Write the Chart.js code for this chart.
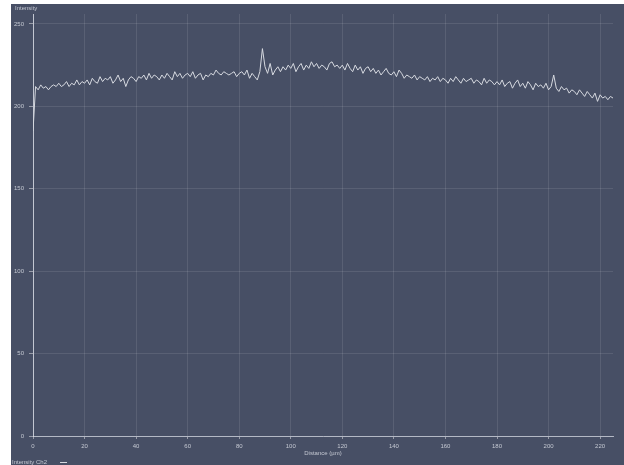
<!DOCTYPE html>
<html>
<head>
<meta charset="utf-8">
<script src="https://cdn.jsdelivr.net/npm/chart.js@4.4.1/dist/chart.umd.min.js"></script>
<style>
  html, body { margin: 0; padding: 0; background: #ffffff; }
  #wrap { position: absolute; left: 11px; top: 4px; width: 613px; height: 461px; }
</style>
</head>
<body>
<div id="wrap"><canvas id="profileChart" width="613" height="461"></canvas></div>
<script>
// Profile data, one reading per micrometre
const stepUm = 1;
const intensityCh2 = [
    185, 212, 210, 213, 211, 212, 210, 212, 213, 212,
    214, 212, 213, 215, 212, 214, 213, 216, 213, 215,
    214, 216, 213, 217, 215, 214, 218, 215, 217, 216,
    218, 214, 216, 219, 215, 217, 212, 216, 218, 217,
    215, 218, 217, 219, 216, 220, 217, 219, 218, 216,
    219, 217, 220, 218, 216, 221, 218, 220, 217, 219,
    220, 218, 221, 217, 219, 220, 216, 219, 218, 220,
    219, 222, 220, 219, 221, 220, 219, 220, 221, 218,
    220, 221, 219, 222, 217, 220, 218, 216, 221, 235,
    224, 220, 226, 219, 222, 224, 221, 224, 222, 225,
    223, 226, 221, 224, 226, 222, 225, 223, 227, 224,
    226, 223, 225, 224, 222, 226, 227, 224, 225, 223,
    225, 222, 226, 223, 221, 225, 222, 224, 220, 223,
    224, 221, 223, 220, 222, 219, 221, 223, 220, 219,
    221, 218, 222, 220, 217, 219, 218, 217, 219, 216,
    218, 217, 216, 218, 215, 217, 216, 218, 215, 217,
    216, 214, 217, 215, 218, 216, 214, 217, 215, 216,
    217, 214, 216, 215, 213, 217, 214, 216, 215, 213,
    215, 213, 216, 212, 214, 215, 211, 214, 216, 212,
    214, 211, 215, 213, 210, 214, 212, 213, 211, 214,
    210, 212, 219, 211, 209, 212, 210, 211, 208, 210,
    209, 207, 210, 208, 206, 209, 207, 205, 208, 203,
    207, 205, 206, 204, 206, 205
];
const xTickValues = [0, 20, 40, 60, 80, 100, 120, 140, 160, 180, 200, 220];
const yTickValues = [0, 50, 100, 150, 200, 250];

const points = intensityCh2.map(function (v, i) {
    return { x: i * stepUm, y: v };
});

const bgColor = 'rgb(71, 79, 101)';
const lineColor = '#d6d9e0';
const textColor = '#c4c8d2';
const font = { family: 'Liberation Sans, Arial, sans-serif', size: 6 };

// Paint the dark backdrop and the extra labels
const backdrop = {
    id: 'backdrop',
    beforeDraw: function (chart) {
        const c = chart.ctx;
        c.save();
        c.fillStyle = bgColor;
        c.fillRect(0, 0, chart.width, chart.height);
        c.restore();
    },
    afterDraw: function (chart) {
        const c = chart.ctx;
        c.save();
        c.font = '6px Liberation Sans, Arial, sans-serif';
        c.fillStyle = textColor;
        c.textBaseline = 'middle';
        c.textAlign = 'left';
        c.fillText('Intensity', 4, 4);
        // legend: label first, then the line sample
        const label = chart.data.datasets[0].label;
        c.fillText(label, 1, 458);
        const w = c.measureText(label).width;
        c.strokeStyle = lineColor;
        c.lineWidth = 1;
        c.beginPath();
        c.moveTo(1 + w + 13, 458.5);
        c.lineTo(1 + w + 20, 458.5);
        c.stroke();
        c.restore();
    }
};

new Chart(document.getElementById('profileChart').getContext('2d'), {
    type: 'line',
    data: {
        datasets: [{
            label: 'Intensity Ch2',
            data: points,
            borderColor: lineColor,
            borderWidth: 1,
            pointRadius: 0,
            tension: 0,
            fill: false
        }]
    },
    options: {
        responsive: false,
        animation: false,
        layout: { padding: { top: 10, right: 11, left: 0, bottom: 0 } },
        plugins: {
            legend: { display: false },
            tooltip: { enabled: false }
        },
        scales: {
            x: {
                type: 'linear',
                min: 0,
                max: 225,
                afterBuildTicks: function (s) { s.ticks = xTickValues.map(function (v) { return { value: v }; }); },
                afterFit: function (s) { s.height = 29; },
                grid: { color: 'rgba(255,255,255,0.1)', tickColor: 'rgba(255,255,255,0.45)', tickLength: 3 },
                border: { color: 'rgba(220,224,232,0.7)', width: 1 },
                ticks: { color: textColor, font: font, padding: 4, maxRotation: 0 },
                title: { display: true, text: 'Distance (µm)', color: textColor, font: font, padding: { top: 0, bottom: 8 } }
            },
            y: {
                min: 0,
                max: 256,
                afterBuildTicks: function (s) { s.ticks = yTickValues.map(function (v) { return { value: v }; }); },
                afterFit: function (s) { s.width = 22; },
                grid: { color: 'rgba(255,255,255,0.1)', tickColor: 'rgba(255,255,255,0.45)', tickLength: 4 },
                border: { color: 'rgba(220,224,232,0.8)', width: 1 },
                ticks: { color: textColor, font: font, padding: 5 }
            }
        }
    },
    plugins: [backdrop]
});
</script>
</body>
</html>
